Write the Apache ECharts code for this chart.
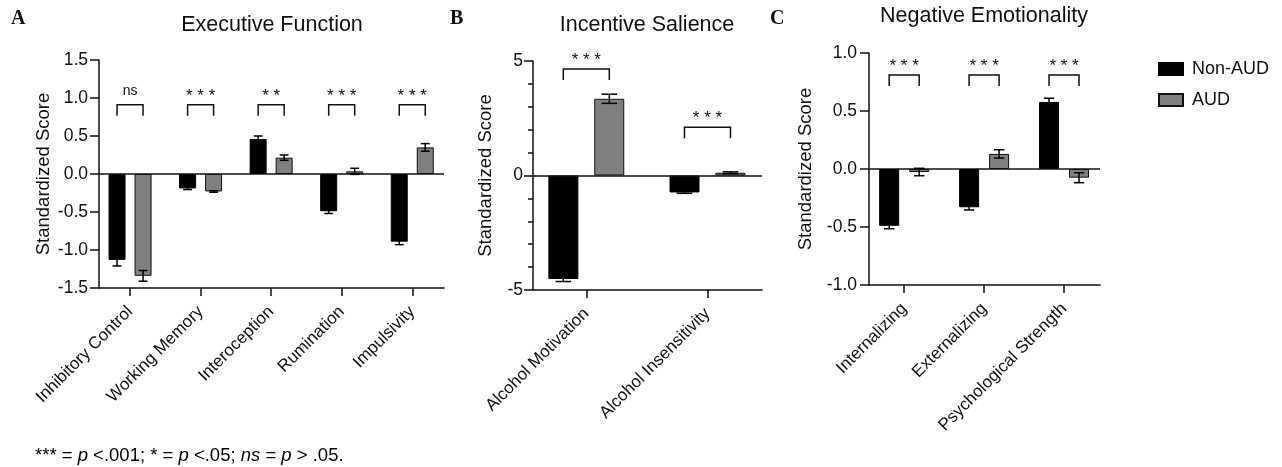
<!DOCTYPE html>
<html>
<head>
<meta charset="utf-8">
<script src="https://cdn.jsdelivr.net/npm/echarts@6/dist/echarts.min.js"></script>
<style>
html,body{margin:0;padding:0;background:#fff;}
#chart{width:1282px;height:467px;}
</style>
</head>
<body>
<div id="chart"></div>
<script>
// ---------- DATA ----------
const seriesNames = ['Non-AUD', 'AUD'];

const catsA = ['Inhibitory Control', 'Working Memory', 'Interoception', 'Rumination', 'Impulsivity'];
const nonAudA = [-1.13, -0.19, 0.46, -0.49, -0.89];
const nonAudErrA = [0.08, 0.015, 0.04, 0.03, 0.04];
const audA = [-1.34, -0.23, 0.215, 0.035, 0.35];
const audErrA = [0.07, 0.01, 0.035, 0.04, 0.05];
const sigA = ['ns', '* * *', '* *', '* * *', '* * *'];
const bracketA = [0.91, 0.91, 0.91, 0.91, 0.91];
const yTicksA = { min: -1.5, max: 1.5, interval: 0.5 };

const catsB = ['Alcohol Motivation', 'Alcohol Insensitivity'];
const nonAudB = [-4.52, -0.74];
const nonAudErrB = [0.11, 0.04];
const audB = [3.35, 0.12];
const audErrB = [0.2, 0.04];
const sigB = ['* * *', '* * *'];
const bracketB = [4.65, 2.11];
const yTicksB = { min: -5, max: 5, interval: 5 };

const catsC = ['Internalizing', 'Externalizing', 'Psychological Strength'];
const nonAudC = [-0.49, -0.33, 0.578];
const nonAudErrC = [0.025, 0.023, 0.032];
const audC = [-0.026, 0.13, -0.075];
const audErrC = [0.032, 0.036, 0.043];
const sigC = ['* * *', '* * *', '* * *'];
const bracketC = [0.81, 0.81, 0.81];
const yTicksC = { min: -1, max: 1, interval: 0.5 };

const titles = ['Executive Function', 'Incentive Salience', 'Negative Emotionality'];
const panelLetters = ['A', 'B', 'C'];
const yName = 'Standardized Score';

// ---------- STYLE / LAYOUT ----------
const FONT = '"Liberation Sans", Arial, Helvetica, sans-serif';
const SERIF = '"Liberation Serif", "Times New Roman", serif';
const INK = '#111';
const BLACK = '#000';
const GREY = '#808080';

const panels = [
  { cats: catsA, non: nonAudA, nonE: nonAudErrA, aud: audA, audE: audErrA, sig: sigA, br: bracketA, yt: yTicksA,
    grid: { left: 99, top: 60, width: 345, height: 228 }, barW: 17, gap: 9, nameGap: 46, lblMargin: 11, dec: 1, minor: false },
  { cats: catsB, non: nonAudB, nonE: nonAudErrB, aud: audB, audE: audErrB, sig: sigB, br: bracketB, yt: yTicksB,
    grid: { left: 533, top: 61, width: 229, height: 229 }, barW: 30, gap: 16, nameGap: 38, lblMargin: 10, dec: 0, minor: true },
  { cats: catsC, non: nonAudC, nonE: nonAudErrC, aud: audC, audE: audErrC, sig: sigC, br: bracketC, yt: yTicksC,
    grid: { left: 869, top: 53, width: 231, height: 232 }, barW: 20, gap: 10, nameGap: 54, lblMargin: 12, dec: 1, minor: false }
];

const grids = [], xAxes = [], yAxes = [], series = [];

panels.forEach((p, gi) => {
  const n = p.cats.length;
  grids.push(Object.assign({ containLabel: false }, p.grid));
  const idx = p.cats.map((c, i) => i);
  xAxes.push({
    type: 'value', gridIndex: gi, min: -0.44, max: n - 1 + 0.45,
    axisLine: { show: true, onZero: false, lineStyle: { color: INK, width: 1.5 } },
    axisTick: { show: true, customValues: idx, length: 8, lineStyle: { color: INK, width: 1.5 } },
    axisLabel: { customValues: idx, rotate: 45, margin: 21, fontSize: 17, fontFamily: FONT, color: INK,
      formatter: v => p.cats[Math.round(v)] },
    splitLine: { show: false }
  });
  yAxes.push({
    type: 'value', gridIndex: gi, min: p.yt.min, max: p.yt.max, interval: p.yt.interval,
    name: yName, nameLocation: 'middle', nameRotate: 90, nameGap: p.nameGap,
    nameTextStyle: { fontSize: 18.5, fontFamily: FONT, color: INK },
    axisLine: { show: true, onZero: false, lineStyle: { color: INK, width: 1.5 } },
    axisTick: { show: true, length: 9, lineStyle: { color: INK, width: 1.5 } },
    minorTick: { show: p.minor, splitNumber: 5, length: 5, lineStyle: { color: INK, width: 1.5 } },
    axisLabel: { fontSize: 17.5, fontFamily: FONT, color: INK, margin: p.lblMargin,
      formatter: v => v.toFixed(p.dec) },
    splitLine: { show: false }
  });

  const barGap = Math.round(p.gap / p.barW * 100) + '%';
  series.push({
    name: seriesNames[0], type: 'bar', xAxisIndex: gi, yAxisIndex: gi,
    barWidth: p.barW, barGap: barGap,
    itemStyle: { color: BLACK, borderColor: BLACK, borderWidth: 1 },
    data: idx.map(i => [i, p.non[i]]),
    markLine: { silent: true, symbol: 'none', label: { show: false },
      lineStyle: { color: INK, width: 1.5, type: 'solid' }, data: [{ yAxis: 0 }] }
  });
  series.push({
    name: seriesNames[1], type: 'bar', xAxisIndex: gi, yAxisIndex: gi,
    barWidth: p.barW, barGap: barGap,
    itemStyle: { color: GREY, borderColor: INK, borderWidth: 1 },
    data: idx.map(i => [i, p.aud[i]])
  });

  // error bars
  [[p.non, p.nonE, -1], [p.aud, p.audE, 1]].forEach(([vals, errs, side]) => {
    series.push({
      type: 'custom', xAxisIndex: gi, yAxisIndex: gi, z: 5, silent: true,
      encode: { x: 0, y: 1 },
      data: idx.map(i => [i, vals[i], errs[i]]),
      renderItem: (params, api) => {
        const x = api.value(0), v = api.value(1), e = api.value(2);
        const off = side * (p.barW + p.gap) / 2;
        const t = api.coord([x, v + e]), b = api.coord([x, v - e]);
        const cx = t[0] + off, cap = p.barW * 0.26;
        const st = { stroke: BLACK, lineWidth: 1.5 };
        return { type: 'group', children: [
          { type: 'line', shape: { x1: cx, y1: t[1], x2: cx, y2: b[1] }, style: st },
          { type: 'line', shape: { x1: cx - cap, y1: t[1], x2: cx + cap, y2: t[1] }, style: st },
          { type: 'line', shape: { x1: cx - cap, y1: b[1], x2: cx + cap, y2: b[1] }, style: st }
        ] };
      }
    });
  });

  // significance brackets
  series.push({
    type: 'custom', xAxisIndex: gi, yAxisIndex: gi, z: 6, silent: true,
    encode: { x: 0, y: 1 },
    data: idx.map(i => [i, p.br[i]]),
    renderItem: (params, api) => {
      const i = params.dataIndex;
      const c = api.coord([api.value(0), api.value(1)]);
      const off = (p.barW + p.gap) / 2, leg = 11;
      const isStar = p.sig[i].indexOf('*') >= 0;
      return { type: 'group', children: [
        { type: 'polyline', shape: { points: [[c[0] - off, c[1] + leg], [c[0] - off, c[1]], [c[0] + off, c[1]], [c[0] + off, c[1] + leg]] },
          style: { stroke: INK, fill: null, lineWidth: 1.5 } },
        { type: 'text', x: c[0], y: c[1] - (isStar ? 8.5 : 14),
          style: { text: p.sig[i], align: 'center', verticalAlign: 'middle', fontSize: isStar ? 17 : 14, fontFamily: FONT, fill: INK } }
      ] };
    }
  });
});

const titlePos = [[272, 25], [647, 25], [984, 16]];
const letterPos = [[11, 19], [450, 19], [770, 19]];
const graphics = [];
titles.forEach((t, i) => graphics.push({ type: 'text', x: titlePos[i][0], y: titlePos[i][1],
  style: { text: t, align: 'center', verticalAlign: 'middle', fontSize: 21.5, fontFamily: FONT, fill: INK } }));
panelLetters.forEach((t, i) => graphics.push({ type: 'text', x: letterPos[i][0], y: letterPos[i][1],
  style: { text: t, align: 'left', verticalAlign: 'middle', fontSize: 20, fontWeight: 'bold', fontFamily: SERIF, fill: INK } }));
graphics.push({ type: 'text', x: 35, y: 456,
  style: { text: '{n|*** = }{i|p}{n| <.001; * = }{i|p}{n| <.05; }{i|ns}{n| = }{i|p}{n| > .05.}',
    verticalAlign: 'middle',
    rich: { n: { fontSize: 18.5, fontFamily: FONT, color: INK }, i: { fontSize: 18.5, fontFamily: FONT, fontStyle: 'italic', color: INK } } } });

const chart = echarts.init(document.getElementById('chart'), null, { renderer: 'canvas' });
chart.setOption({
  animation: false,
  backgroundColor: '#fff',
  grid: grids,
  xAxis: xAxes,
  yAxis: yAxes,
  legend: {
    data: seriesNames, orient: 'vertical', left: 1153, top: 54,
    icon: 'rect', itemWidth: 24, itemHeight: 12, itemGap: 11,
    textStyle: { fontSize: 18, fontFamily: FONT, color: INK, lineHeight: 20, padding: [0, 0, 0, 4] },
    selectedMode: false
  },
  graphic: graphics,
  series: series
});
</script>
</body>
</html>
